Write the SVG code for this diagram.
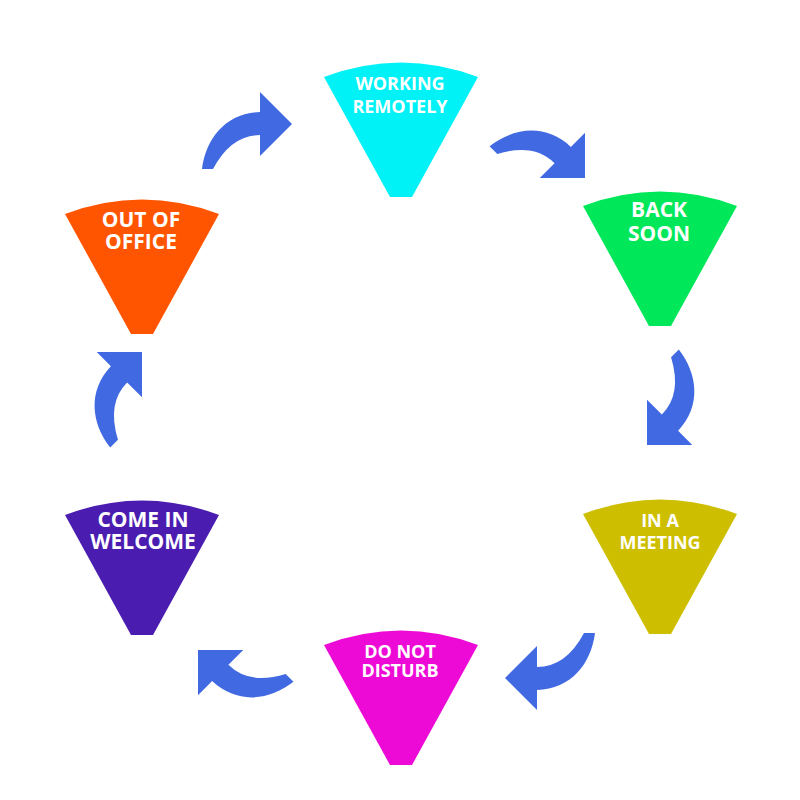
<svg xmlns="http://www.w3.org/2000/svg" width="800" height="800" viewBox="0 0 800 800">
<style>
.lbl{font-family:"Open Sans","Liberation Sans",sans-serif;font-weight:bold;fill:#ffffff;text-anchor:middle}
.arrow{fill:#4169E1}
</style>
<defs>
<path id="funnel" d="M -77,0 Q 0,-29 77,0 L 11,120 L -11,120 Z"/>
<path id="arr" d="M -90,45 C -86,14 -66,-11 -32,-12 L -32,-32 L 0,0 L -32,32 L -32,11 Q -61,11 -79,45 Z"/>
</defs>
<rect width="800" height="800" fill="#ffffff"/>
<g id="connectors">
<use href="#arr" class="arrow" transform="translate(292,124)"/>
<use href="#arr" class="arrow" transform="translate(585,178) rotate(45)"/>
<use href="#arr" class="arrow" transform="translate(647,445) rotate(135)"/>
<use href="#arr" class="arrow" transform="translate(505,678) rotate(180)"/>
<use href="#arr" class="arrow" transform="translate(198,650) rotate(225)"/>
<use href="#arr" class="arrow" transform="translate(142,352) rotate(315)"/>
</g>
<g id="working-remotely">
<use href="#funnel" transform="translate(401,77)" fill="#00F2F7"/>
<text class="lbl" font-size="18"><tspan x="400" y="90">WORKING</tspan><tspan x="400" y="113">REMOTELY</tspan></text>
</g>
<g id="back-soon">
<use href="#funnel" transform="translate(660,206)" fill="#00E85A"/>
<text class="lbl" font-size="21"><tspan x="659" y="217">BACK</tspan><tspan x="659" y="241">SOON</tspan></text>
</g>
<g id="in-a-meeting">
<use href="#funnel" transform="translate(660,514)" fill="#CDBE00"/>
<text class="lbl" font-size="18"><tspan x="660" y="527">IN A</tspan><tspan x="660" y="549">MEETING</tspan></text>
</g>
<g id="do-not-disturb">
<use href="#funnel" transform="translate(401,645)" fill="#EE0AD6"/>
<text class="lbl" font-size="18"><tspan x="400" y="658">DO NOT</tspan><tspan x="400" y="677">DISTURB</tspan></text>
</g>
<g id="come-in-welcome">
<use href="#funnel" transform="translate(142,515)" fill="#4A1DB0"/>
<text class="lbl" font-size="21"><tspan x="143" y="527">COME IN</tspan><tspan x="143" y="549">WELCOME</tspan></text>
</g>
<g id="out-of-office">
<use href="#funnel" transform="translate(142,214)" fill="#FF5500"/>
<text class="lbl" font-size="21"><tspan x="141" y="227">OUT OF</tspan><tspan x="141" y="249">OFFICE</tspan></text>
</g>
</svg>
